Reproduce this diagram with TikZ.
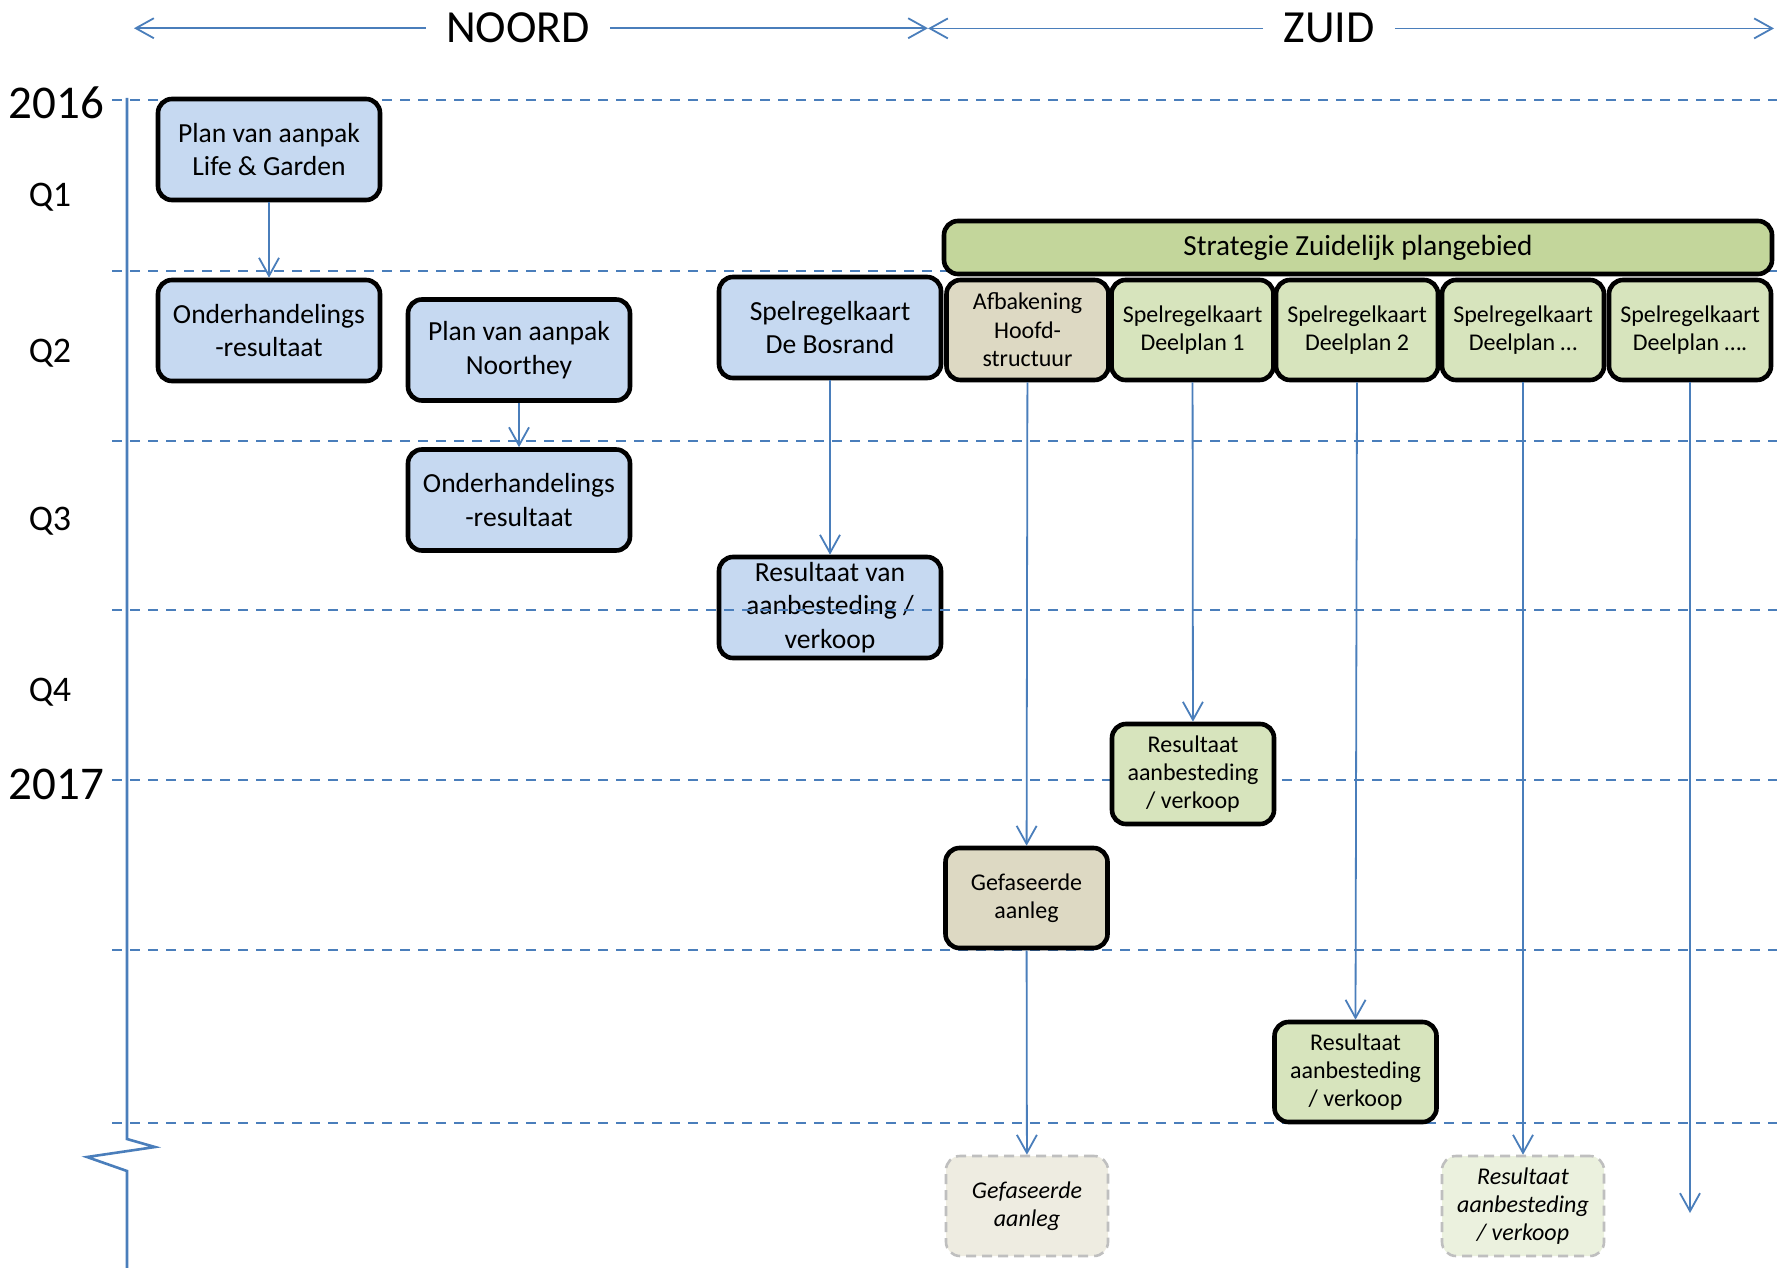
\documentclass[tikz,border=0pt]{standalone}
\usepackage{fontspec}
\setmainfont{Carlito}
\usepackage{xcolor}
\usepackage{tikz}
\usetikzlibrary{positioning,arrows.meta}
\definecolor{lineblue}{HTML}{4A7EBB}
\definecolor{boxblue}{HTML}{C6D9F1}
\definecolor{boxgreen}{HTML}{D7E4BD}
\definecolor{stratgreen}{HTML}{C3D69B}
\definecolor{boxtan}{HTML}{DDD9C3}
\definecolor{latertan}{HTML}{EEECE1}
\definecolor{latergreen}{HTML}{EBF1DE}
\definecolor{latergrey}{HTML}{BFBFBF}

\begin{document}
\begin{tikzpicture}[
    x=0.5pt, y=-0.5pt,
    >={Straight Barb[length=9pt,width=10pt]},
    conn/.style={->, draw=lineblue, line width=0.9pt},
    qline/.style={draw=lineblue, line width=0.9pt, dash pattern=on 5pt off 4pt},
    block/.style={
        draw,
        rounded corners=7pt,
        line width=2.3pt,
        align=center,
        inner sep=1pt
    },
    bigblock/.style={block, minimum width=111pt, minimum height=50.5pt,
                     font=\fontsize{13.8}{16.8}\selectfont},
    smallblock/.style={block, minimum width=81pt, minimum height=50pt,
                       font=\fontsize{12}{14.2}\selectfont},
    blueblock/.style={bigblock, fill=boxblue},
    greenblock/.style={smallblock, fill=boxgreen},
    tanblock/.style={smallblock, fill=boxtan},
    laterblock/.style={smallblock, draw=latergrey, line width=1.3pt,
                       dash pattern=on 5pt off 3pt,
                       font=\fontsize{12}{14.2}\selectfont\itshape},
    yearlbl/.style={anchor=base, font=\fontsize{23.5}{28}\selectfont},
    qlbl/.style={anchor=base, font=\fontsize{18}{22}\selectfont},
    zonelbl/.style={anchor=base, inner xsep=10pt, inner ysep=0pt,
                    font=\fontsize{23}{28}\selectfont}
]
\useasboundingbox (0,0) rectangle (1777,1268);

% this one sits under the quarter lines
\node[blueblock] (resBR) at (830,607.5) {Resultaat van\\aanbesteding /\\verkoop};

% quarter lines and time axis
\foreach \yy in {100,271,441,610,780,950,1123}
    \draw[qline] (112,\yy) -- (1777,\yy);
\draw[lineblue, line width=1.3pt]
    (127,98) -- (127,1139) -- (155,1147) -- (87,1157) -- (127,1171) -- (127,1268);

% time labels
\node[yearlbl] (y2016) at (56.5,119) {2016};
\node[qlbl] (q1) at (50,206.5) {Q1};
\node[qlbl] (q2) at (50,362.5) {Q2};
\node[qlbl] (q3) at (50,530.5) {Q3};
\node[qlbl] (q4) at (50,701.5) {Q4};
\node[yearlbl] (y2017) at (56.5,799) {2017};

% header
\node[zonelbl] (noord) at (518,43) {NOORD};
\node[zonelbl] (zuid) at (1329,43) {ZUID};
\coordinate (nW) at (134,0);
\coordinate (mid) at (928,0);
\coordinate (zE) at (1774,0);

% Noord
\node[blueblock] (planLG) at (269,149.5) {Plan van aanpak\\Life \& Garden};
\node[blueblock] (onderLG) at (269,330.5) {Onderhandelings\\-resultaat};
\node[blueblock] (planNH) at (519,350) {Plan van aanpak\\Noorthey};
\node[blueblock] (onderNH) at (519,500) {Onderhandelings\\-resultaat};
\node[blueblock] (spelBR) at (830,327.5) {Spelregelkaart\\De Bosrand};

% Zuid
\node[block, fill=stratgreen, minimum width=414pt, minimum height=26.5pt,
      font=\fontsize{14.6}{17.5}\selectfont] (strategie) at (1358,247.5)
      {Strategie Zuidelijk plangebied};
\node[tanblock] (afbak) at (1027.5,330) {Afbakening\\Hoofd-\\structuur};
\node[greenblock] (spel1) at (1192.5,330) {Spelregelkaart\\Deelplan 1};
\node[greenblock] (spel2) at (1357,330) {Spelregelkaart\\Deelplan 2};
\node[greenblock] (spel3) at (1523,330) {Spelregelkaart\\Deelplan …};
\node[greenblock] (spel4) at (1690,330) {Spelregelkaart\\Deelplan ….};

\node[tanblock] (gefas) at (1026.5,898) {Gefaseerde\\aanleg};
\node[greenblock] (res1) at (1193,774) {Resultaat\\aanbesteding\\/ verkoop};
\node[greenblock] (res2) at (1355.5,1072) {Resultaat\\aanbesteding\\/ verkoop};
\node[laterblock, fill=latertan] (gefasL) at (1027,1206) {Gefaseerde\\aanleg};
\node[laterblock, fill=latergreen] (resL) at (1523,1206) {Resultaat\\aanbesteding\\/ verkoop};
\coordinate (spel4end) at (1690,1213);

% connectors
\draw[conn] (noord.west) -- (noord.west -| nW);
\draw[conn] (noord.east) -- (noord.east -| mid);
\draw[conn] (zuid.west) -- (zuid.west -| mid);
\draw[conn] (zuid.east) -- (zuid.east -| zE);

\draw[conn] (planLG) -- (onderLG);
\draw[conn] (planNH) -- (onderNH);
\draw[conn] (spelBR) -- (resBR);
\draw[conn] (afbak) -- (gefas);
\draw[conn] (gefas) -- (gefasL);
\draw[conn] (spel1) -- (res1);
\draw[conn] (spel2.south) -- (res2.north);
\draw[conn] (spel3) -- (resL);
\draw[conn] (spel4.south) -- (spel4end);

\end{tikzpicture}
\end{document}
